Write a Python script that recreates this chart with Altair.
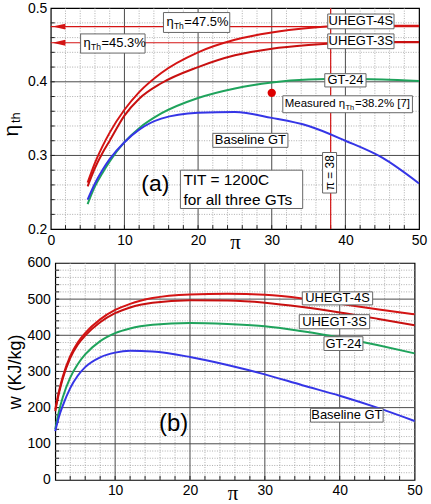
import altair as alt
import pandas as pd

# ---------------- data : panel (a) thermal efficiency ----------------
series_names = ["UHEGT-4S", "UHEGT-3S", "GT-24", "Baseline GT"]
series_colors = ["#d41414", "#c81010", "#1fa35c", "#3535e6"]

pi_a = [5, 6, 7, 8, 10, 12, 15, 20, 25, 30, 35, 40, 45, 50]
eta_4s = [0.263, 0.290, 0.312, 0.331, 0.362, 0.386, 0.412, 0.440, 0.457, 0.467, 0.473, 0.476, 0.476, 0.476]
eta_3s = [0.258, 0.283, 0.303, 0.320, 0.354, 0.377, 0.398, 0.420, 0.436, 0.445, 0.450, 0.453, 0.454, 0.454]
eta_gt24 = [0.234, 0.258, 0.276, 0.292, 0.318, 0.337, 0.357, 0.378, 0.391, 0.399, 0.403, 0.404, 0.403, 0.401]
eta_base = [0.240, 0.262, 0.280, 0.295, 0.318, 0.335, 0.350, 0.358, 0.359, 0.351, 0.340, 0.320, 0.297, 0.262]

eta_max_4s = 0.475
eta_max_3s = 0.453
pi_line = 38
measured_pi = [30]
measured_eta = [0.385]

# ---------------- data : panel (b) specific work ----------------
pi_b = [2, 2.5, 3, 4, 5, 6, 8, 10, 12, 15, 20, 25, 30, 35, 40, 45, 50]
w_4s = [195, 245, 285, 342, 380, 406, 444, 470, 487, 503, 513, 515, 512, 502, 487, 472, 458]
w_3s = [190, 240, 280, 337, 374, 399, 436, 461, 477, 490, 497, 496, 490, 478, 463, 446, 428]
w_gt24 = [140, 190, 228, 283, 320, 347, 384, 406, 419, 429, 434, 431, 425, 411, 394, 373, 350]
w_base = [135, 175, 205, 254, 288, 312, 339, 352, 357, 355, 340, 318, 292, 262, 233, 200, 163]

# axis / grid values
a_x_ticks = [0, 10, 20, 30, 40, 50]
a_y_ticks = [0.2, 0.3, 0.4, 0.5]
a_x_minor = [v for v in range(2, 50, 2) if v % 10]
a_x_major = [10, 20, 30, 40]
a_y_minor = [round(0.2 + 0.02 * i, 2) for i in range(1, 15) if i % 5]
a_y_major = [0.3, 0.4]

b_x_ticks = [10, 20, 30, 40, 50]
b_y_ticks = [0, 100, 200, 300, 400, 500, 600]
b_x_minor = [v for v in range(4, 50, 2) if v % 10]
b_x_major = [10, 20, 30, 40]
b_y_minor = [v for v in range(20, 600, 20) if v % 100]
b_y_major = [100, 200, 300, 400, 500]

FONT = "Liberation Sans"
W_A, H_A = 370, 222
W_B, H_B = 361, 218


def long_df(xs, ys_list):
    rows = []
    for name, ys in zip(series_names, ys_list):
        for x, y in zip(xs, ys):
            rows.append({"pi": x, "v": y, "s": name})
    return pd.DataFrame(rows)


class Panel:
    def __init__(self, xsc, ysc, xax, yax, W, H):
        self.xsc, self.ysc, self.xax, self.yax, self.W, self.H = xsc, ysc, xax, yax, W, H

    def X(self, f):
        return alt.X(f, scale=self.xsc, axis=self.xax)

    def Y(self, f):
        return alt.Y(f, scale=self.ysc, axis=self.yax)


def grid_layers(P, xs_minor, xs_major, ys_minor, ys_major):
    layers = []
    layers.append(alt.Chart(pd.DataFrame({"g": xs_minor})).mark_rule(
        color="#9a9a9a", strokeWidth=0.8, strokeDash=[1, 1.5]).encode(x=P.X("g:Q")))
    layers.append(alt.Chart(pd.DataFrame({"g": ys_minor})).mark_rule(
        color="#9a9a9a", strokeWidth=0.8, strokeDash=[1, 1.5]).encode(y=P.Y("g:Q")))
    layers.append(alt.Chart(pd.DataFrame({"g": xs_major})).mark_rule(
        color="#4a4a4a", strokeWidth=1).encode(x=P.X("g:Q")))
    layers.append(alt.Chart(pd.DataFrame({"g": ys_major})).mark_rule(
        color="#4a4a4a", strokeWidth=1).encode(y=P.Y("g:Q")))
    # inward ticks on left and bottom
    layers.append(alt.Chart(pd.DataFrame({"g": xs_minor + xs_major})).mark_rule(
        color="#222222", strokeWidth=1).encode(x=P.X("g:Q"), y=alt.value(P.H), y2=alt.value(P.H - 4)))
    layers.append(alt.Chart(pd.DataFrame({"g": ys_minor + ys_major})).mark_rule(
        color="#222222", strokeWidth=1).encode(y=P.Y("g:Q"), x=alt.value(0), x2=alt.value(4)))
    return layers


def box_layer(P, df):
    return alt.Chart(df).mark_rect(fill="white", stroke="#666666", strokeWidth=1).encode(
        x=P.X("x1:Q"), x2="x2:Q", y=P.Y("y1:Q"), y2="y2:Q")


def frag(P, text, x, y, dx=0, dy=0, size=13, align="left", angle=0, font=FONT):
    return alt.Chart(pd.DataFrame({"x": [x], "y": [y], "t": [text]})).mark_text(
        font=font, fontSize=size, align=align, baseline="middle", dx=dx, dy=dy, angle=angle,
        color="black").encode(x=P.X("x:Q"), y=P.Y("y:Q"), text="t:N")


color_scale = alt.Scale(domain=series_names, range=series_colors)

# ======================= panel (a) =======================
PA = Panel(
    alt.Scale(domain=[0, 50], nice=False, zero=False),
    alt.Scale(domain=[0.2, 0.5], nice=False, zero=False),
    alt.Axis(values=a_x_ticks, title="π", titleX=185, titleY=19, titleBaseline="alphabetic",
             titleFont="Liberation Serif", titleFontSize=21, titleFontWeight="normal"),
    alt.Axis(values=a_y_ticks, format=".1f", title=None),
    W_A, H_A)

lines_a = alt.Chart(long_df(pi_a, [eta_4s, eta_3s, eta_gt24, eta_base])).mark_line(
    strokeWidth=2, interpolate="monotone").encode(
    x=PA.X("pi:Q"), y=PA.Y("v:Q"),
    color=alt.Color("s:N", scale=color_scale, legend=None), detail="s:N")

hl = alt.Chart(pd.DataFrame({"y": [eta_max_4s, eta_max_3s]})).mark_rule(color="#d41414", strokeWidth=1.2).encode(
    y=PA.Y("y:Q"), x=alt.value(0), x2=alt.value(W_A))
arrows = alt.Chart(pd.DataFrame({"x": [1.1, 1.1], "y": [eta_max_4s, eta_max_3s]})).mark_point(
    shape="M -1 0 L 1 -0.45 L 1 0.45 Z", size=170, filled=True, color="#d41414", opacity=1).encode(
    x=PA.X("x:Q"), y=PA.Y("y:Q"))
vl = alt.Chart(pd.DataFrame({"x": [pi_line]})).mark_rule(color="#d41414", strokeWidth=1.2).encode(
    x=PA.X("x:Q"))
dot = alt.Chart(pd.DataFrame({"x": measured_pi, "y": measured_eta})).mark_point(
    filled=True, size=70, color="#dd0000", opacity=1).encode(x=PA.X("x:Q"), y=PA.Y("y:Q"))

boxes_a = pd.DataFrame({
    "x1": [15.3, 4.05, 37.6, 37.6, 37.2, 31.5, 22.0, 36.9, 17.6],
    "x2": [24.3, 12.8, 46.6, 46.6, 42.8, 49.1, 32.2, 38.8, 34.2],
    "y1": [0.467, 0.439, 0.472, 0.445, 0.393, 0.358, 0.311, 0.249, 0.228],
    "y2": [0.494, 0.465, 0.492, 0.465, 0.411, 0.381, 0.330, 0.304, 0.280],
})

texts_a = [
    frag(PA, "η", 15.3, 0.4805, dx=3, size=13),
    frag(PA, "Th", 15.3, 0.4805, dx=10.5, dy=4, size=8.5),
    frag(PA, "=47.5%", 15.3, 0.4805, dx=21, size=13),
    frag(PA, "η", 4.05, 0.452, dx=3, size=13),
    frag(PA, "Th", 4.05, 0.452, dx=10.5, dy=4, size=8.5),
    frag(PA, "=45.3%", 4.05, 0.452, dx=21, size=13),
    frag(PA, "UHEGT-4S", 42.1, 0.482, size=13, align="center"),
    frag(PA, "UHEGT-3S", 42.1, 0.455, size=13, align="center"),
    frag(PA, "GT-24", 40.0, 0.402, size=13, align="center"),
    frag(PA, "Measured η", 31.5, 0.3695, dx=2, size=11.5),
    frag(PA, "Th", 31.5, 0.3695, dx=63, dy=3.5, size=7.5),
    frag(PA, "=38.2% [7]", 31.5, 0.3695, dx=72.5, size=11.5),
    frag(PA, "Baseline GT", 27.1, 0.3205, size=13, align="center"),
    frag(PA, "π = 38", 37.85, 0.2765, size=12, align="center", angle=270),
    frag(PA, "TIT = 1200C", 17.6, 0.267, dx=3, size=15.5),
    frag(PA, "for all three GTs", 17.6, 0.240, dx=3, size=15.5),
    frag(PA, "(a)", 14.2, 0.261, size=23, align="center"),
]

ytitle_a = [
    alt.Chart(pd.DataFrame({"t": ["η"]})).mark_text(font=FONT, fontSize=21, angle=270, baseline="middle",
                                                     align="center", color="black").encode(
        x=alt.value(-39), y=alt.value(123), text="t:N"),
    alt.Chart(pd.DataFrame({"t": ["th"]})).mark_text(font=FONT, fontSize=13, angle=270, baseline="middle",
                                                      align="center", color="black").encode(
        x=alt.value(-35), y=alt.value(110), text="t:N"),
]

top = alt.layer(
    *grid_layers(PA, a_x_minor, a_x_major, a_y_minor, a_y_major),
    hl, vl, lines_a, arrows, dot, box_layer(PA, boxes_a), *texts_a, *ytitle_a
).properties(width=W_A, height=H_A)

# ======================= panel (b) =======================
PB = Panel(
    alt.Scale(domain=[2, 50], nice=False, zero=False),
    alt.Scale(domain=[0, 600], nice=False, zero=False),
    alt.Axis(values=b_x_ticks, title="π", titleX=178, titleY=20, titleBaseline="alphabetic",
             titleFont="Liberation Serif", titleFontSize=21, titleFontWeight="normal"),
    alt.Axis(values=b_y_ticks, title="w (KJ/kg)", titleFont=FONT, titleFontSize=18,
             titleFontWeight="normal", titlePadding=3, labelPadding=5),
    W_B, H_B)

lines_b = alt.Chart(long_df(pi_b, [w_4s, w_3s, w_gt24, w_base])).mark_line(
    strokeWidth=2, interpolate="monotone").encode(
    x=PB.X("pi:Q"), y=PB.Y("v:Q"),
    color=alt.Color("s:N", scale=color_scale, legend=None), detail="s:N")

boxes_b = pd.DataFrame({
    "x1": [35.0, 34.6, 37.9, 36.1],
    "x2": [44.4, 44.0, 43.1, 45.8],
    "y1": [484, 418, 358, 160],
    "y2": [520, 457, 396, 198],
})
texts_b = [
    frag(PB, "UHEGT-4S", 39.7, 502, size=13, align="center"),
    frag(PB, "UHEGT-3S", 39.3, 437.5, size=13, align="center"),
    frag(PB, "GT-24", 40.5, 377, size=13, align="center"),
    frag(PB, "Baseline GT", 40.95, 179, size=13, align="center"),
    frag(PB, "(b)", 17.8, 154, size=24, align="center"),
]

bottom = alt.layer(
    *grid_layers(PB, b_x_minor, b_x_major, b_y_minor, b_y_major),
    lines_b, box_layer(PB, boxes_b), *texts_b
).properties(width=W_B, height=H_B)

chart = alt.vconcat(top, bottom, spacing=34, bounds="flush", center=True).properties(
    padding={"left": 0, "top": -1, "right": 3, "bottom": 0}
).configure_view(stroke="black", strokeWidth=1.2).configure_axis(
    labelFont=FONT, labelFontSize=14, labelColor="black", labelFlush=False, labelPadding=4,
    domain=False, ticks=False, grid=False, titleColor="black"
)

chart.save("out.html", embed_options={"renderer": "svg", "actions": False})
